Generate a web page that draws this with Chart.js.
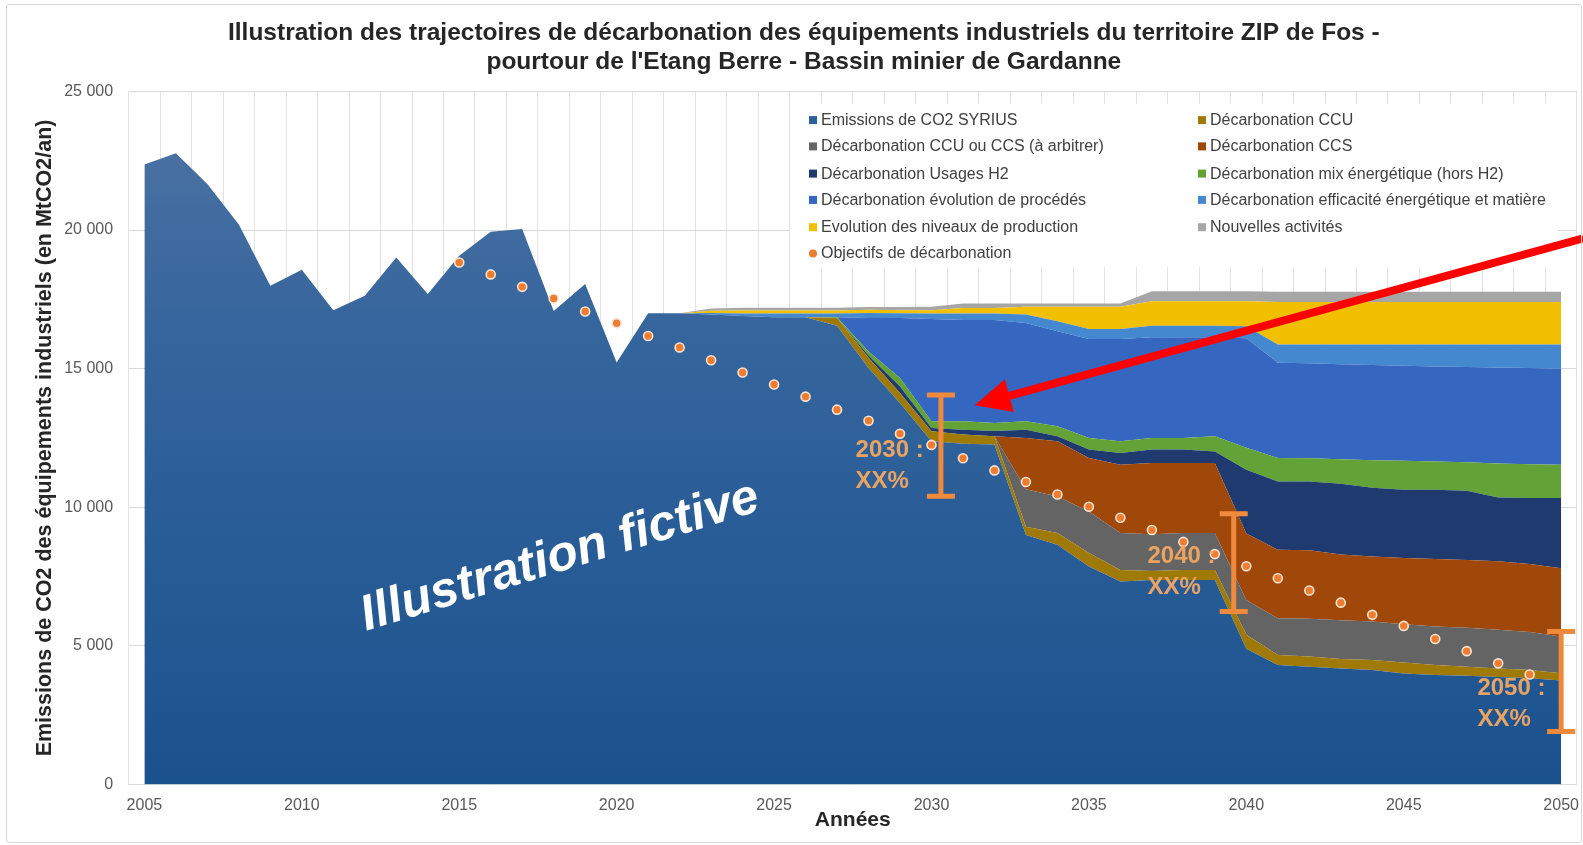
<!DOCTYPE html>
<html>
<head>
<meta charset="utf-8">
<script src="https://cdn.jsdelivr.net/npm/chart.js@4.4.1/dist/chart.umd.min.js"></script>
<style>
  html, body { margin: 0; padding: 0; background: #fff; }
  #wrap { position: relative; width: 1583px; height: 845px; overflow: hidden; }
  #cadre { position: absolute; left: 6px; top: 4px; width: 1574px; height: 837px; border: 1.5px solid #d6d6d6; border-radius: 3px; pointer-events: none; }
</style>
</head>
<body>
<div id="wrap">
  <canvas id="graf" width="1583" height="845"></canvas>
  <div id="cadre"></div>
</div>
<script>
// ---------- données ----------
const annees = [2005, 2006, 2007, 2008, 2009, 2010, 2011, 2012, 2013, 2014, 2015, 2016, 2017, 2018, 2019, 2020,
  2021, 2022, 2023, 2024, 2025, 2026, 2027, 2028, 2029, 2030, 2031, 2032, 2033, 2034, 2035, 2036, 2037, 2038,
  2039, 2040, 2041, 2042, 2043, 2044, 2045, 2046, 2047, 2048, 2049, 2050];
const anneesFutur = [2021, 2022, 2023, 2024, 2025, 2026, 2027, 2028, 2029, 2030, 2031, 2032, 2033, 2034, 2035,
  2036, 2037, 2038, 2039, 2040, 2041, 2042, 2043, 2044, 2045, 2046, 2047, 2048, 2049, 2050];
const anneesObjectif = [2015, 2016, 2017, 2018, 2019, 2020, 2021, 2022, 2023, 2024, 2025, 2026, 2027, 2028, 2029,
  2030, 2031, 2032, 2033, 2034, 2035, 2036, 2037, 2038, 2039, 2040, 2041, 2042, 2043, 2044, 2045, 2046, 2047, 2048, 2049];

const emissionsSyrius = [22360, 22770, 21660, 20200, 17990, 18570, 17110, 17630, 19010, 17690, 19070, 19940, 20040,
  17080, 18050, 15220, 17000, 17000, 16950, 16900, 16850, 16850, 16550, 15020, 13760, 12380, 12290, 12260, 9000,
  8650, 7860, 7320, 7380, 7380, 7380, 4900, 4310, 4250, 4180, 4130, 4000, 3950, 3920, 3880, 3830, 3750];

const decarbCCU = [0, 0, 0, 0, 0, 0, 280, 370, 360, 360, 330, 300, 300, 420, 490, 420, 320, 360, 360, 500,
  360, 370, 350, 360, 400, 360, 330, 300, 300, 260];
const decarbCCUouCCS = [0, 0, 0, 0, 0, 0, 0, 0, 0, 0, 0, 0, 1350, 1320, 1500, 1330, 1330, 1330, 1330, 1250,
  1330, 1360, 1390, 1390, 1380, 1390, 1400, 1400, 1370, 1330];
const decarbCCS = [0, 0, 0, 0, 0, 0, 0, 0, 0, 0, 0, 0, 1850, 1990, 1930, 2460, 2570, 2530, 2530, 2400,
  2470, 2470, 2380, 2340, 2390, 2430, 2450, 2470, 2450, 2460];
const decarbH2 = [0, 0, 0, 0, 0, 0, 0, 80, 240, 120, 180, 190, 300, 180, 300, 430, 480, 480, 410, 2300,
  2460, 2480, 2550, 2480, 2460, 2500, 2500, 2300, 2380, 2530];
const decarbMix = [0, 0, 0, 0, 0, 0, 20, 150, 300, 240, 300, 290, 300, 360, 420, 420, 420, 420, 550, 800,
  850, 840, 880, 1000, 1050, 1020, 1020, 1230, 1220, 1200];
const decarbProcedes = [0, 0, 0, 0, 0, 0, 0, 1210, 2170, 3690, 3650, 3710, 3550, 3430, 3570, 3690, 3630, 3630, 3570, 3950,
  3430, 3420, 3430, 3430, 3420, 3430, 3440, 3460, 3470, 3470];
const decarbEfficacite = [0, 0, 60, 90, 140, 140, 140, 180, 170, 200, 240, 240, 300, 360, 360, 360, 420, 420, 420, 430,
  660, 680, 710, 740, 770, 790, 810, 830, 850, 870];
const evolProduction = [0, 0, 80, 110, 110, 110, 110, 110, 110, 120, 200, 200, 280, 520, 800, 800, 880, 880, 880, 900,
  1530, 1530, 1530, 1530, 1530, 1530, 1530, 1530, 1530, 1530];
const nouvellesActivites = [0, 0, 80, 100, 100, 100, 100, 100, 110, 120, 160, 160, 120, 120, 120, 120, 360, 360, 360, 360,
  370, 370, 370, 370, 370, 370, 370, 370, 370, 370];

const objectifs = [18830, 18400, 17950, 17530, 17060, 16640, 16180, 15760, 15300, 14860, 14430, 13990, 13520, 13120,
  12650, 12250, 11770, 11330, 10910, 10460, 10020, 9620, 9180, 8750, 8310, 7870, 7440, 7000, 6560, 6120, 5720,
  5250, 4810, 4370, 3970];

// barres d'objectif (2030, 2040, 2050)
const barresAnnees = [2030.3, 2039.6, 2050];
const barresBas = [10400, 6240, 1910];
const barresHaut = [14050, 9770, 5520];
const etiquettesBarres = ["2030 :", "2040 :", "2050 :"];

const noms = ["Emissions de CO2 SYRIUS", "Décarbonation CCU", "Décarbonation CCU ou CCS (à arbitrer)",
  "Décarbonation CCS", "Décarbonation Usages H2", "Décarbonation mix énergétique (hors H2)",
  "Décarbonation évolution de procédés", "Décarbonation efficacité énergétique et matière",
  "Evolution des niveaux de production", "Nouvelles activités", "Objectifs de décarbonation"];
const couleurs = ["#2d5f9a", "#a07a06", "#646464", "#a0470a", "#1e3a6e", "#62a236", "#3667c0", "#4489d0",
  "#f2c000", "#a6a6a6", "#ed7d31"];

// ---------- mise en page ----------
const police = "'Liberation Sans', Arial, sans-serif";
Chart.defaults.font.family = police;

// positions des textes (valeurs des axes)
const posEtiquettes = [{ x: 2027.59, y: 12040 }, { x: 2036.86, y: 8220 }, { x: 2047.34, y: 3480 }];
const posFiligrane = { x: 2018.2, y: 8200 };
const fleche = { x1: 2050.7, y1: 19700, x2: 2031.37, y2: 13680 };
// boite de légende (pixels)
const boiteLegende = { x: 790, y: 104, w: 768, h: 163, col1: 809, col2: 1198, rangs: [120.1, 146.4, 173.6, 199.9, 227.2, 253.4] };

function serie(xs, ys) {
  return xs.map((x, i) => ({ x: x, y: ys[i] }));
}

function degradeSyrius(c) {
  const chart = c.chart;
  const a = chart.chartArea;
  if (!a) return couleurs[0];
  const g = chart.ctx.createLinearGradient(0, a.top, 0, a.bottom);
  g.addColorStop(0, "#4f73a3");
  g.addColorStop(0.35, "#35659d");
  g.addColorStop(1, "#1a528e");
  return g;
}

const couches = [decarbCCU, decarbCCUouCCS, decarbCCS, decarbH2, decarbMix, decarbProcedes,
  decarbEfficacite, evolProduction, nouvellesActivites];

const datasets = [
  {
    label: noms[10],
    data: serie(anneesObjectif, objectifs),
    stack: "obj",
    showLine: false,
    fill: false,
    pointRadius: 4.5,
    pointBackgroundColor: "#ed7d31",
    pointBorderColor: "#fbe3d2",
    pointBorderWidth: 1.6,
  },
  {
    label: noms[0],
    data: serie(annees, emissionsSyrius),
    stack: "co2",
    fill: "origin",
    backgroundColor: degradeSyrius,
    borderColor: "transparent",
    borderWidth: 0,
    pointRadius: 0,
  },
];
couches.forEach((valeurs, i) => {
  datasets.push({
    label: noms[i + 1],
    data: serie(anneesFutur, valeurs),
    stack: "co2",
    fill: "-1",
    backgroundColor: couleurs[i + 1],
    borderColor: "transparent",
    borderWidth: 0,
    pointRadius: 0,
  });
});

// légende dessinée dans le graphique (sous la fleche)
const legendeMaison = {
  id: "legendeMaison",
  beforeDatasetsDraw(chart) {
    const ctx = chart.ctx;
    const b = boiteLegende;
    ctx.save();
    ctx.fillStyle = "#ffffff";
    ctx.fillRect(b.x, b.y, b.w, b.h);
    ctx.font = "16px " + police;
    ctx.textBaseline = "middle";
    ctx.textAlign = "left";
    noms.forEach((nom, i) => {
      const x = i % 2 === 0 ? b.col1 : b.col2;
      const y = b.rangs[Math.floor(i / 2)];
      ctx.fillStyle = couleurs[i];
      if (i === 10) {
        ctx.beginPath();
        ctx.arc(x + 4, y, 4, 0, Math.PI * 2);
        ctx.fill();
      } else {
        ctx.fillRect(x, y - 4, 8, 8);
      }
      ctx.fillStyle = "#404040";
      ctx.fillText(nom, x + 12, y + 0.5);
    });
    ctx.restore();
  },
};

// annotations : barres, textes, filigrane, fleche
const annotations = {
  id: "annotations",
  afterDatasetsDraw(chart) {
    const ctx = chart.ctx;
    const sx = chart.scales.x;
    const sy = chart.scales.y;

    // filigrane
    ctx.save();
    ctx.translate(sx.getPixelForValue(posFiligrane.x), sy.getPixelForValue(posFiligrane.y));
    ctx.rotate(-17 * Math.PI / 180);
    ctx.font = "italic bold 50px " + police;
    ctx.fillStyle = "#ffffff";
    ctx.textAlign = "center";
    ctx.textBaseline = "middle";
    ctx.fillText("Illustration fictive", 0, 0);
    ctx.restore();

    // barres
    ctx.save();
    ctx.strokeStyle = "#ef8a3c";
    ctx.lineWidth = 5;
    for (let i = 0; i < barresAnnees.length; i++) {
      const x = sx.getPixelForValue(barresAnnees[i]);
      const yh = sy.getPixelForValue(barresHaut[i]);
      const yb = sy.getPixelForValue(barresBas[i]);
      ctx.beginPath();
      ctx.moveTo(x, yh); ctx.lineTo(x, yb);
      ctx.moveTo(x - 14, yh); ctx.lineTo(x + 14, yh);
      ctx.moveTo(x - 14, yb); ctx.lineTo(x + 14, yb);
      ctx.stroke();
    }
    // textes
    ctx.font = "bold 24px " + police;
    ctx.fillStyle = "rgba(243,166,96,0.95)";
    ctx.textAlign = "left";
    ctx.textBaseline = "middle";
    for (let i = 0; i < etiquettesBarres.length; i++) {
      const x = sx.getPixelForValue(posEtiquettes[i].x);
      const y = sy.getPixelForValue(posEtiquettes[i].y);
      ctx.fillText(etiquettesBarres[i], x, y);
      ctx.fillText("XX%", x, y + 31);
    }
    ctx.restore();

    // fleche rouge
    const ax = sx.getPixelForValue(fleche.x1), ay = sy.getPixelForValue(fleche.y1);
    const bx = sx.getPixelForValue(fleche.x2), by = sy.getPixelForValue(fleche.y2);
    const len = Math.hypot(bx - ax, by - ay);
    const ux = (bx - ax) / len, uy = (by - ay) / len;
    const baseX = bx - ux * 36, baseY = by - uy * 36;
    ctx.save();
    ctx.strokeStyle = "#ff0000";
    ctx.fillStyle = "#ff0000";
    ctx.lineWidth = 8;
    ctx.beginPath();
    ctx.moveTo(ax, ay);
    ctx.lineTo(baseX + ux * 4, baseY + uy * 4);
    ctx.stroke();
    ctx.beginPath();
    ctx.moveTo(bx, by);
    ctx.lineTo(baseX - uy * 17, baseY + ux * 17);
    ctx.lineTo(baseX + uy * 17, baseY - ux * 17);
    ctx.closePath();
    ctx.fill();
    ctx.restore();
  },
};

function milliers(v) {
  return String(v).replace(/\B(?=(\d{3})+(?!\d))/g, " ");
}

const config = {
  type: "line",
  data: { datasets: datasets },
  options: {
    responsive: false,
    animation: false,
    events: [],
    layout: { padding: { left: 30, right: 5.35, top: 0, bottom: 10 } },
    elements: { line: { tension: 0 } },
    plugins: {
      legend: { display: false },
      tooltip: { enabled: false },
      title: {
        display: true,
        text: ["Illustration des trajectoires de décarbonation des équipements industriels du territoire ZIP de Fos -",
          "pourtour de l'Etang Berre - Bassin minier de Gardanne"],
        color: "#262626",
        font: { size: 24.5, weight: "bold", lineHeight: 1.2 },
        padding: { top: 18.5, bottom: 14.1 },
      },
    },
    scales: {
      x: {
        type: "linear",
        min: 2004.5,
        max: 2050.5,
        afterFit(s) { s.height = 845 - 10 - 784.5; s.paddingLeft = 0; s.paddingRight = 0; },
        ticks: {
          stepSize: 0.5,
          autoSkip: false,
          maxRotation: 0,
          padding: 11,
          color: "#595959",
          font: { size: 16 },
          callback: (v) => (Number.isInteger(v) && v % 5 === 0 ? String(v) : ""),
        },
        grid: {
          drawTicks: false,
          color: (c) => (c.tick && !Number.isInteger(c.tick.value) ? "#e2e2e2" : "transparent"),
        },
        border: { display: true, color: "#d9d9d9" },
        title: {
          display: true,
          text: "Années",
          color: "#262626",
          font: { size: 21, weight: "bold" },
          padding: { top: 0, bottom: 2.4 },
        },
      },
      y: {
        stacked: true,
        min: 0,
        max: 25000,
        afterFit(s) { s.width = 128.65 - 30; },
        ticks: {
          stepSize: 5000,
          padding: 15.5,
          color: "#595959",
          font: { size: 16 },
          callback: (v) => milliers(v),
        },
        grid: { drawTicks: false, color: "#d9d9d9" },
        border: { display: false },
        title: {
          display: true,
          text: "Emissions de CO2 des équipements industriels (en MtCO2/an)",
          color: "#262626",
          font: { size: 21.5, weight: "bold" },
          padding: { top: 2.2, bottom: 0 },
        },
      },
    },
  },
  plugins: [legendeMaison, annotations],
};

const graf = new Chart(document.getElementById("graf"), config);
</script>
</body>
</html>
